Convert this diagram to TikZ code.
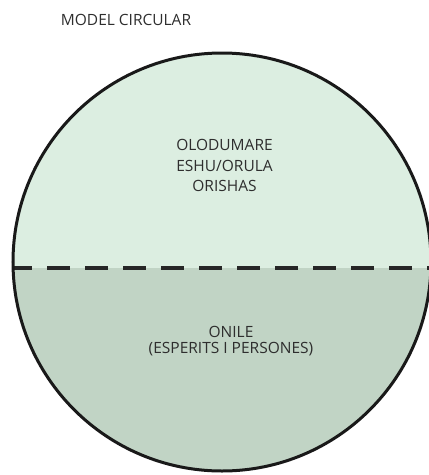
\documentclass[tikz,border=0pt]{standalone}
\usepackage{fontspec}
\setmainfont{Open Sans}
\definecolor{upperfill}{HTML}{DCEEE1}
\definecolor{lowerfill}{HTML}{C1D4C5}
\definecolor{txt}{HTML}{2E2E2E}
\tikzset{
  label/.style={text=txt, align=center, inner sep=0pt, font=\fontsize{15.5}{20.5}\selectfont},
  lowlabel/.style={text=txt, align=center, inner sep=0pt, font=\fontsize{15.5}{16.5}\selectfont},
  divider/.style={line width=4pt, dash pattern=on 23pt off 15pt, dash phase=4pt, color=black!85},
  rim/.style={line width=3pt, color=black!90}
}
\begin{document}
\begin{tikzpicture}[x=1pt,y=-1pt]
\useasboundingbox (0,0) rectangle (429,475);
\clip (0,0) rectangle (429,475);
\coordinate (c) at (222,262);
\begin{scope}
  \clip (c) circle[radius=209pt];
  \fill[upperfill] (0,0) rectangle (429,268);
  \fill[lowerfill] (0,268) rectangle (429,475);
\end{scope}
\coordinate (dl) at (13,268);
\coordinate (dr) at (429,268);
\draw[divider] (dl) -- (dr);
\draw[rim] (c) circle[radius=209pt];
\node[label] (title) at (126,20) {MODEL CIRCULAR};
\node[label] (upper) at (224.5,165.5) {OLODUMARE\\ESHU/ORULA\\ORISHAS};
\node[lowlabel] (lower) at (231,341) {ONILE\\(ESPERITS I PERSONES)};
\end{tikzpicture}
\end{document}
